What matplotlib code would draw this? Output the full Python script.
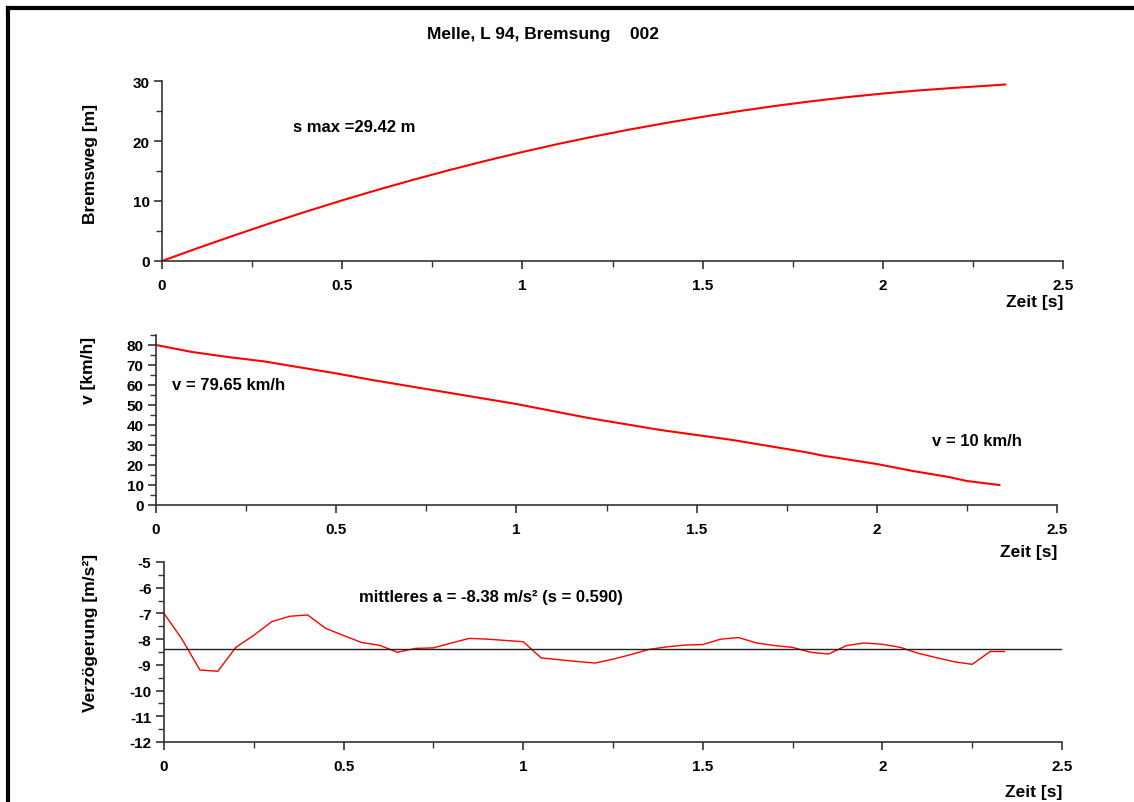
import matplotlib
matplotlib.use("Agg")
import matplotlib.pyplot as plt
from matplotlib.ticker import MultipleLocator, FuncFormatter
from matplotlib.lines import Line2D

plt.rcParams['font.family'] = ['Liberation Sans', 'DejaVu Sans']
plt.rcParams['font.weight'] = 'bold'
plt.rcParams['axes.unicode_minus'] = False

# ---- data ----
title = "Melle, L 94, Bremsung    002"

t_s = [0, 0.1, 0.2, 0.3, 0.4, 0.5, 0.6, 0.7, 0.8, 0.9, 1.0, 1.1, 1.2, 1.3, 1.4,
       1.5, 1.6, 1.7, 1.8, 1.9, 2.0, 2.1, 2.2, 2.3, 2.34]
s_m = [0, 2.17, 4.26, 6.29, 8.24, 10.11, 11.89, 13.58, 15.19, 16.72, 18.16, 19.52,
       20.77, 21.94, 23.02, 24.03, 24.97, 25.83, 26.61, 27.30, 27.91, 28.43, 28.86,
       29.25, 29.42]

t_v = [0, 0.1, 0.2, 0.3, 0.4, 0.5, 0.6, 0.7, 0.8, 0.9, 1.0, 1.1, 1.2, 1.3, 1.4,
       1.5, 1.6, 1.7, 1.8, 1.85, 1.9, 2.0, 2.1, 2.2, 2.25, 2.34]
v_kmh = [80, 76.5, 74, 71.8, 68.8, 65.8, 62.5, 59.5, 56.5, 53.5, 50.5, 47, 43.5, 40.5,
         37.5, 35, 32.5, 29.5, 26.5, 24.7, 23.3, 20.5, 17, 14, 12, 10]

t_a = [0, 0.05, 0.1, 0.15, 0.2, 0.25, 0.3, 0.35, 0.4, 0.45, 0.5, 0.55, 0.6, 0.65,
       0.7, 0.75, 0.8, 0.85, 0.9, 0.95, 1.0, 1.05, 1.1, 1.15, 1.2, 1.25, 1.3, 1.35,
       1.4, 1.45, 1.5, 1.55, 1.6, 1.65, 1.7, 1.75, 1.8, 1.85, 1.9, 1.95, 2.0, 2.05,
       2.1, 2.15, 2.2, 2.25, 2.3, 2.34]
a_ms2 = [-7.0, -8.0, -9.2, -9.25, -8.32, -7.85, -7.32, -7.11, -7.06, -7.58, -7.86,
         -8.13, -8.24, -8.51, -8.36, -8.34, -8.15, -7.97, -8.0, -8.05, -8.1, -8.73,
         -8.8, -8.87, -8.93, -8.78, -8.6, -8.4, -8.3, -8.23, -8.21, -8.0, -7.94,
         -8.15, -8.25, -8.32, -8.51, -8.58, -8.25, -8.15, -8.2, -8.32, -8.55, -8.72,
         -8.88, -8.98, -8.48, -8.48]
a_mean = -8.38

txt_s = "s max =29.42 m"
txt_v0 = "v = 79.65 km/h"
txt_v1 = "v = 10 km/h"
txt_a = "mittleres a = -8.38 m/s\u00b2 (s = 0.590)"

xticks = [0, 0.5, 1, 1.5, 2, 2.5]

W, H = 1134, 803
fig = plt.figure(figsize=(W / 100, H / 100), dpi=100)

def fx(px):
    return px / W

def fy(py):
    return 1 - py / H

def make_ax(left_px, right_px, top_px, bottom_px):
    ax = fig.add_axes([fx(left_px), fy(bottom_px), fx(right_px - left_px),
                       (bottom_px - top_px) / H])
    for sp in ['top', 'right']:
        ax.spines[sp].set_visible(False)
    for sp in ['left', 'bottom']:
        ax.spines[sp].set_color('#333333')
        ax.spines[sp].set_linewidth(1.2)
    ax.set_xlim(0, 2.5)
    ax.set_xticks(xticks)
    ax.xaxis.set_minor_locator(MultipleLocator(0.25))
    ax.xaxis.set_major_formatter(FuncFormatter(lambda v, p: ('%g' % v)))
    ax.tick_params(axis='both', which='major', direction='out', length=6,
                   width=1.2, color='#333333', labelsize=11, pad=3)
    ax.tick_params(axis='both', which='minor', direction='out', length=4,
                   width=1.0, color='#333333')
    ax.tick_params(axis='x', which='major', pad=6)
    for lab in ax.get_xticklabels() + ax.get_yticklabels():
        lab.set_fontweight('bold')
    ax.patch.set_alpha(0)
    return ax

fs_lab = 12.5
fs_ann = 12
# top axes
ax1 = make_ax(162, 1063, 82, 262)
ax1.plot(t_s, s_m, color='#ff0000', lw=1.5)
ax1.set_ylim(0, 30)
ax1.set_yticks([0, 10, 20, 30])
ax1.yaxis.set_minor_locator(MultipleLocator(5))
ax1.text(0.363, 22.5, txt_s, fontsize=fs_ann, fontweight='bold', va='center', ha='left')
fig.text(fx(90), fy(164), "Bremsweg [m]", rotation=90, ha='center', va='center',
         fontsize=fs_lab, fontweight='bold')
fig.text(fx(1063), fy(303), "Zeit [s]", ha='right', va='center', fontsize=fs_lab,
         fontweight='bold')

# middle axes
ax2 = make_ax(156, 1057, 336, 506)
ax2.plot(t_v, v_kmh, color='#ff0000', lw=1.5)
ax2.set_ylim(0, 85)
ax2.set_yticks([0, 10, 20, 30, 40, 50, 60, 70, 80])
ax2.yaxis.set_minor_locator(MultipleLocator(5))
ax2.text(0.044, 60, txt_v0, fontsize=fs_ann, fontweight='bold', va='center', ha='left')
ax2.text(2.153, 32, txt_v1, fontsize=fs_ann, fontweight='bold', va='center', ha='left')
fig.text(fx(88), fy(370), "v [km/h]", rotation=90, ha='center', va='center',
         fontsize=fs_lab, fontweight='bold')
fig.text(fx(1057), fy(553), "Zeit [s]", ha='right', va='center', fontsize=fs_lab,
         fontweight='bold')

# bottom axes
ax3 = make_ax(164, 1062, 563, 743)
ax3.plot(t_a, a_ms2, color='#ff0000', lw=1.0)
ax3.axhline(a_mean, color='#222222', lw=1.0)
ax3.set_ylim(-12, -5)
ax3.set_yticks([-12, -11, -10, -9, -8, -7, -6, -5])
ax3.yaxis.set_minor_locator(MultipleLocator(0.5))
ax3.text(0.543, -6.36, txt_a, fontsize=fs_ann, fontweight='bold', va='center', ha='left')
fig.text(fx(90), fy(633), "Verzögerung [m/s\u00b2]", rotation=90, ha='center',
         va='center', fontsize=fs_lab, fontweight='bold')
fig.text(fx(1062), fy(793), "Zeit [s]", ha='right', va='center', fontsize=fs_lab,
         fontweight='bold')

fig.text(fx(543), fy(35), title, ha='center', va='center', fontsize=12.5,
         fontweight='bold')

# frame (left and top edges)
fig.add_artist(Line2D([fx(8), fx(8)], [0, fy(9)], color='black', lw=3,
                      transform=fig.transFigure, solid_capstyle='projecting'))
fig.add_artist(Line2D([fx(8), 1], [fy(9), fy(9)], color='black', lw=3,
                      transform=fig.transFigure, solid_capstyle='projecting'))

fig.savefig("out.png", dpi=100)
